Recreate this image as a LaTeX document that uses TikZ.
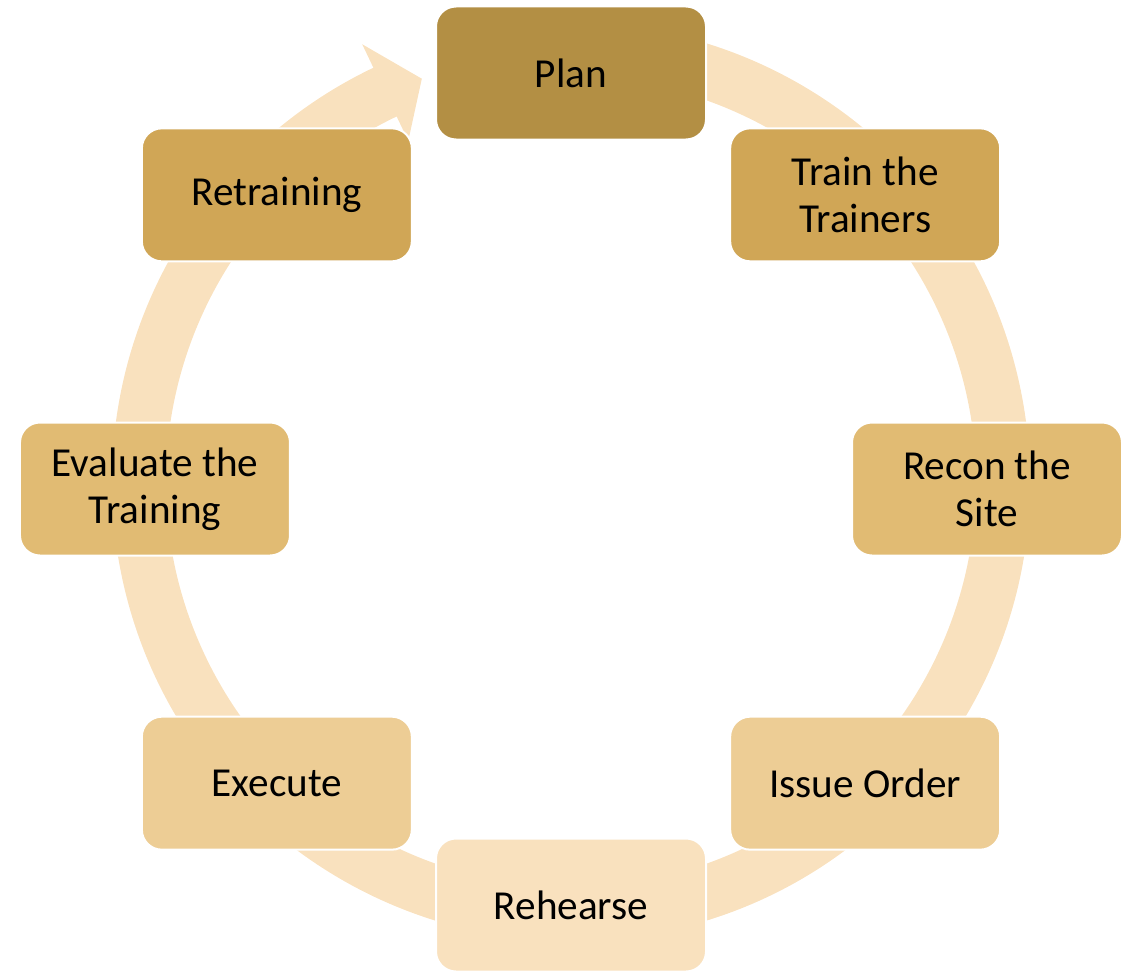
\documentclass[tikz,border=0pt]{standalone}
\usepackage{fontspec}
\setmainfont{Carlito}
\definecolor{first}{RGB}{179,143,68}
\definecolor{second}{RGB}{208,166,86}
\definecolor{third}{RGB}{225,187,115}
\definecolor{fourth}{RGB}{237,205,149}
\definecolor{fifth}{RGB}{249,225,190}
\usetikzlibrary{
	positioning,
	calc
}
\tikzset{
  % ring
	cstring/.style   ={fill=fifth},
  % node
	cstnode/.style   ={draw=white,line width=1pt,rounded corners=10pt,minimum width=135pt,minimum height=66.5pt,align=center,text=black,font=\fontsize{20.6}{23.5}\selectfont},
	cstnode1/.style  ={cstnode,fill=first},
	cstnode2/.style  ={cstnode,fill=second},
	cstnode3/.style  ={cstnode,fill=third},
	cstnode4/.style  ={cstnode,fill=fourth},
	cstnode5/.style  ={cstnode,fill=fifth}
}

\begin{document}
\begin{tikzpicture}[x=0.5pt,y=0.5pt]
			\useasboundingbox (-571,-488) rectangle (562,482);
			% ring with arrow head
			\fill[cstring] (100:459) arc[start angle=100,end angle=-244.5,radius=459]
				-- (-244.5:485) -- (-249.7:430) -- (-244.5:378) -- (-244.5:405)
				arc[start angle=-244.5,end angle=100,radius=405] -- cycle;
			% steps
			\node[cstnode1] (plan)     at ([shift={(0,-7)}]90:416)   {Plan};
			\node[cstnode2] (train)    at ([shift={(0,-7)}]45:416)   {Train the\\Trainers};
			\node[cstnode3] (recon)    at ([shift={(0,-7)}]0:416)    {Recon the\\Site};
			\node[cstnode4] (issue)    at ([shift={(0,-7)}]-45:416)  {Issue Order};
			\node[cstnode5] (rehearse) at ([shift={(0,-7)}]-90:416)  {Rehearse};
			\node[cstnode4] (execute)  at ([shift={(0,-7)}]-135:416) {Execute};
			\node[cstnode3] (evaluate) at ([shift={(0,-7)}]180:416)  {Evaluate the\\Training};
			\node[cstnode2] (retrain)  at ([shift={(0,-7)}]135:416)  {Retraining};
		\end{tikzpicture}
\end{document}
